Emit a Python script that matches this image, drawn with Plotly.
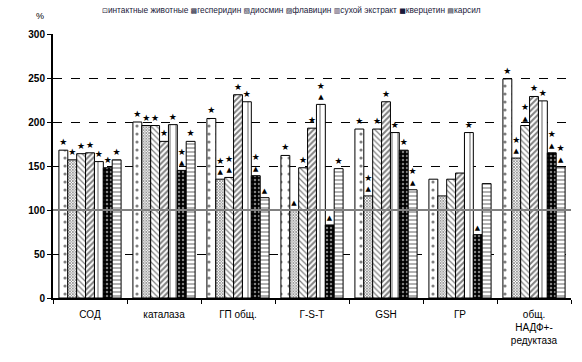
import plotly.graph_objects as go

categories = ["СОД", "каталаза", "ГП общ.", "Г-S-T", "GSH", "ГР", "общ.<br>НАДФ+-<br>редуктаза"]
series_names = ["интактные животные", "гесперидин", "диосмин", "флавицин",
                "сухой экстракт", "кверцетин", "карсил"]
legend_glyphs = ["⊡", "▩", "▧", "▨", "▥", "■", "▤"]

intact      = [168, 200, 204, 162, 192, 135, 249]
hesperidin  = [157, 196, 135, 100, 116, 116, 159]
diosmin     = [164, 196, 137, 148, 192, 135, 196]
flavicin    = [165, 178, 231, 193, 223, 142, 229]
dry_extract = [155, 197, 223, 220, 188, 188, 224]
quercetin   = [148, 145, 139, 83, 168, 72, 165]
karsil      = [157, 178, 114, 147, 123, 130, 149]

# significance marks: S = star, T = triangle, B = both, "" = none
marks_intact      = ["S", "S", "S", "S", "S", "", "S"]
marks_hesperidin  = ["S", "S", "B", "T", "B", "", "B"]
marks_diosmin     = ["S", "S", "B", "S", "S", "", "B"]
marks_flavicin    = ["S", "S", "S", "S", "S", "", "S"]
marks_dry_extract = ["S", "S", "S", "B", "S", "S", "S"]
marks_quercetin   = ["S", "B", "B", "T", "S", "T", "B"]
marks_karsil      = ["S", "S", "T", "S", "B", "", "B"]

reference_level = 100
y_ticks = [0, 50, 100, 150, 200, 250, 300]

values = [intact, hesperidin, diosmin, flavicin, dry_extract, quercetin, karsil]
marks = [marks_intact, marks_hesperidin, marks_diosmin, marks_flavicin,
         marks_dry_extract, marks_quercetin, marks_karsil]

STAR = "<span style='font-size:9px'>★</span>"
TRI = "<span style='font-size:7px'>▲</span>"
mark_text = {"S": STAR, "T": TRI, "B": STAR + "<br>" + TRI, "": ""}

patterns = [
    dict(shape=".", bgcolor="white", fgcolor="black", size=8, solidity=0.12),
    dict(shape="x", bgcolor="white", fgcolor="black", size=2, solidity=0.6),
    dict(shape="\\", bgcolor="white", fgcolor="black", size=4, solidity=0.3),
    dict(shape="/", bgcolor="white", fgcolor="black", size=4, solidity=0.5),
    dict(shape="|", bgcolor="white", fgcolor="black", size=6, solidity=0.2),
    dict(shape=".", bgcolor="black", fgcolor="white", size=4, solidity=0.3),
    dict(shape="-", bgcolor="white", fgcolor="black", size=4, solidity=0.3),
]

FONT = "Liberation Sans, Arial, sans-serif"

fig = go.Figure()
for name, vals, mk, pat in zip(series_names, values, marks, patterns):
    fig.add_trace(go.Bar(
        name=name, x=categories, y=vals,
        marker=dict(color="white", pattern=pat, line=dict(color="black", width=1)),
        text=[mark_text[m] for m in mk],
        textposition="outside",
        constraintext="none",
        cliponaxis=False,
        outsidetextfont=dict(family="DejaVu Sans", size=8, color="black"),
        showlegend=False,
    ))

fig.add_shape(type="line", xref="paper", x0=0, x1=1, yref="y",
              y0=reference_level, y1=reference_level,
              line=dict(color="#808080", width=2), layer="above")

fig.add_annotation(text="%", xref="paper", yref="paper", x=-0.025, y=1.04,
                   xanchor="center", yanchor="bottom", showarrow=False,
                   font=dict(family=FONT, size=9, color="black"))

legend_text = " ".join(
    f"<span style='font-family:DejaVu Sans;font-size:7px'>{g}</span>{n}"
    for g, n in zip(legend_glyphs, series_names))
fig.add_annotation(text=legend_text, xref="paper", yref="paper",
                   x=0.09, y=1.092, xanchor="left", yanchor="middle",
                   showarrow=False,
                   font=dict(family=FONT, size=8.3, color="#1a1a3a"))

fig.update_layout(
    width=582, height=362,
    margin=dict(l=53, r=11, t=34, b=64),
    paper_bgcolor="white", plot_bgcolor="white",
    barmode="group", bargap=0.16, bargroupgap=0,
    font=dict(family=FONT, size=10, color="black"),
    showlegend=False,
    xaxis=dict(showline=True, linecolor="black", linewidth=2,
               ticks="outside", tickson="boundaries", ticklen=4,
               tickcolor="black", tickfont=dict(family=FONT, size=10),
               ticklabelstandoff=6, showgrid=False),
    yaxis=dict(range=[0, 300], tickvals=y_ticks, showline=True,
               linecolor="black", linewidth=2, ticks="outside", ticklen=4,
               tickcolor="black",
               tickfont=dict(family=FONT, size=10, weight="bold"),
               showgrid=True, gridcolor="black", griddash="dash", gridwidth=1,
               zeroline=False),
)

fig.write_html("out.html", config={"displayModeBar": False},
               post_script="document.body.style.margin='0';")
